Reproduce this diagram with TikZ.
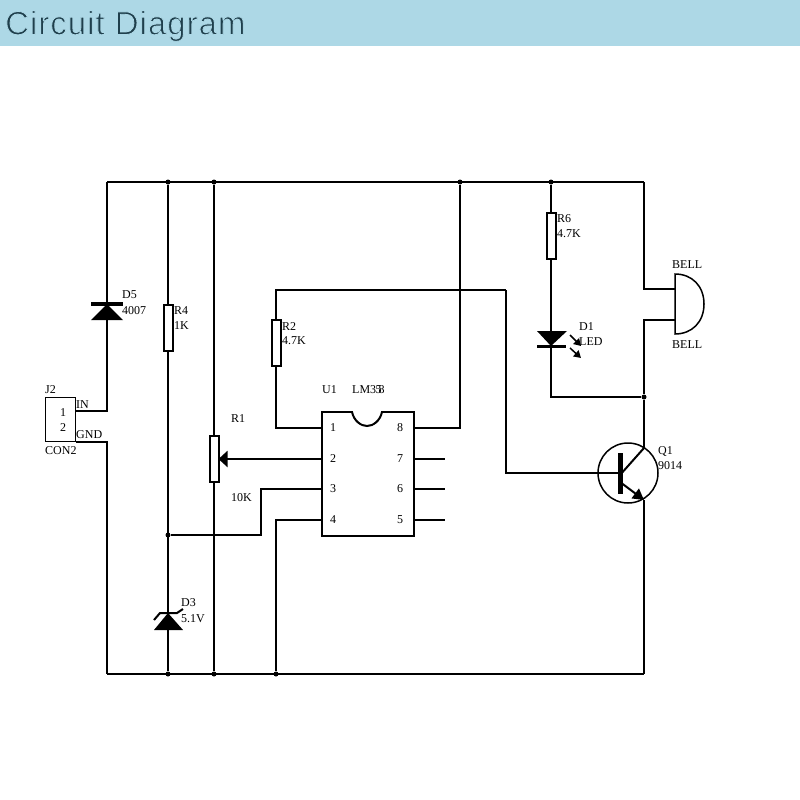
\documentclass[tikz,border=0pt]{standalone}
\usepackage{fontspec}
\setmainfont{Liberation Serif}
\newfontfamily\titlefont[LetterSpace=3]{Liberation Sans}
\usetikzlibrary{arrows.meta}
\definecolor{bandblue}{HTML}{ADD8E6}
\definecolor{titleink}{HTML}{1F3F4C}
\newcommand{\thintext}[1]{\special{pdf:code q 2 Tr 0.85 w 0.678 0.847 0.902 RG}#1\special{pdf:code Q}}
\tikzset{
  wire/.style={line width=2pt,line join=miter},
  resbox/.style={draw,line width=2pt,fill=white,minimum width=9pt,minimum height=46pt,inner sep=0,outer sep=0},
  junction/.style={circle,fill=black,minimum size=5pt,inner sep=0},
  lbl/.style={anchor=west,inner sep=0,font=\fontsize{12}{12}\selectfont},
  pinlbl/.style={inner sep=0,font=\fontsize{12}{12}\selectfont},
  diodebar/.style={line width=3.5pt}
}
\begin{document}
\begin{tikzpicture}[x=1pt,y=-1pt]
    \useasboundingbox (0,0) rectangle (800,800);
    \fill[bandblue] (0,0) rectangle (800,46);
    \node[anchor=west,inner sep=0,text=titleink,font=\titlefont\fontsize{33}{33}\selectfont] (title) at (5,26) {\thintext{Circuit Diagram}};

    % rails
    \coordinate (tl) at (107,182);
    \coordinate (tr) at (644,182);
    \coordinate (bl) at (107,674);
    \coordinate (br) at (644,674);
    \node[junction] (t168) at (168,182) {};
    \node[junction] (t214) at (214,182) {};
    \node[junction] (t460) at (460,182) {};
    \node[junction] (t551) at (551,182) {};
    \node[junction] (b168) at (168,674) {};
    \node[junction] (b214) at (214,674) {};
    \node[junction] (b276) at (276,674) {};
    \node[junction] (m168) at (168,535) {};
    \node[junction] (m644) at (644,397) {};
    \draw[wire] (tl) -- (tr);
    \draw[wire] (bl) -- (br);

    % connector J2
    \node[draw,line width=1pt,minimum width=30pt,minimum height=44pt,inner sep=0,outer sep=0] (j2) at (60,419) {};
    \node[lbl] (j2name) at (45,390) {J2};
    \node[lbl] (j2val) at (45,451) {CON2};
    \node[pinlbl] (j2a) at (63,413) {1};
    \node[pinlbl] (j2b) at (63,428) {2};
    \node[lbl] (inlbl) at (76,405) {IN};
    \node[lbl] (gndlbl) at (76,435) {GND};
    \coordinate (in) at (76,411);
    \coordinate (gnd) at (76,442);
    \draw[wire] (in) -| (tl);
    \draw[wire] (gnd) -| (bl);

    % D5
    \coordinate (d5k) at (107,304);
    \fill (d5k) -- (123,320) -- (91,320) -- cycle;
    \draw[diodebar] (91,304) -- (123,304);
    \node[lbl] (d5name) at (122,295) {D5};
    \node[lbl] (d5val) at (122,311) {4007};

    % R4 and D3
    \node[resbox] (r4) at (168,327.5) {};
    \node[lbl] (r4name) at (174,311) {R4};
    \node[lbl] (r4val) at (174,326) {1K};
    \draw[wire] (t168) -- (r4.north);
    \draw[wire] (r4.south) -- (b168);
    \coordinate (d3k) at (168,613);
    \fill (d3k) -- (183,630) -- (154,630) -- cycle;
    \draw[line width=2pt] (154,620) -- (160,613) -- (177,613) -- (183,609);
    \node[lbl] (d3name) at (181,603) {D3};
    \node[lbl] (d3val) at (181,619) {5.1V};

    % R1
    \node[resbox] (r1) at (214,459) {};
    \node[lbl] (r1name) at (231,419) {R1};
    \node[lbl] (r1val) at (231,498) {10K};
    \draw[wire] (t214) -- (r1.north);
    \draw[wire] (r1.south) -- (b214);

    % U1
    \node[draw,line width=2pt,fill=white,minimum width=92pt,minimum height=124pt,inner sep=0,outer sep=0] (u1) at (368,474) {};
    \draw[white,line width=3pt] (353,412) -- (381,412);
    \draw[line width=2pt] (352,412) .. controls (354,421) and (361,426) .. (367,426) .. controls (373,426) and (380,421) .. (382,412);
    \node[lbl] (u1name) at (322,390) {U1};
    \node[lbl] (u1val) at (352,390) {LM3\kern-.5pt 5\kern-3pt 8};
    \node[pinlbl] (p1) at (333,428) {1};
    \node[pinlbl] (p2) at (333,459) {2};
    \node[pinlbl] (p3) at (333,489) {3};
    \node[pinlbl] (p4) at (333,520) {4};
    \node[pinlbl] (p8) at (400,428) {8};
    \node[pinlbl] (p7) at (400,459) {7};
    \node[pinlbl] (p6) at (400,489) {6};
    \node[pinlbl] (p5) at (400,520) {5};
    \draw[wire,-{Triangle[length=9pt,width=16pt]}] (u1.west |- p2) -- (r1.east |- p2);
    \coordinate (u3turn) at (261,489);
    \draw[wire] (u1.west |- p3) -- (u3turn) |- (m168);
    \draw[wire] (u1.west |- p4) -| (b276);
    \draw[wire] (u1.east |- p8) -| (t460);
    \coordinate (p7end) at (445,459);
    \coordinate (p6end) at (445,489);
    \coordinate (p5end) at (445,520);
    \draw[wire] (u1.east |- p7) -- (p7end);
    \draw[wire] (u1.east |- p6) -- (p6end);
    \draw[wire] (u1.east |- p5) -- (p5end);

    % R2
    \node[resbox] (r2) at (276,343) {};
    \node[lbl] (r2name) at (282,327) {R2};
    \node[lbl] (r2val) at (282,341) {4.7K};
    \coordinate (qturn) at (506,290);
    \draw[wire] (u1.west |- p1) -| (r2.south);
    \draw[wire] (r2.north) |- (qturn);

    % R6 and D1
    \node[resbox] (r6) at (551,235.5) {};
    \node[lbl] (r6name) at (557,219) {R6};
    \node[lbl] (r6val) at (557,234) {4.7K};
    \coordinate (d1turn) at (551,397);
    \coordinate (d1k) at (551,346);
    \draw[wire] (t551) -- (r6.north);
    \draw[wire] (r6.south) -- (d1turn) -- (m644);
    \fill (d1k) -- (567,331) -- (537,331) -- cycle;
    \draw[diodebar] (537,346.5) -- (566,346.5);
    \draw[line width=1.5pt,-{Triangle[length=7pt,width=8pt]}] (570,335) -- (581,346);
    \draw[line width=1.5pt,-{Triangle[length=7pt,width=8pt]}] (570,348) -- (581,358);
    \node[lbl] (d1name) at (579,327) {D1};
    \node[lbl] (d1val) at (579,342) {LED};

    % BELL
    \coordinate (bella) at (675,289);
    \coordinate (bellb) at (675,320);
    \draw[line width=1.5pt] (675,274) .. controls (692,274) and (704,286) .. (704,304) .. controls (704,322) and (692,334) .. (675,334) -- cycle;
    \node[lbl] (bellname) at (672,265) {BELL};
    \node[lbl] (bellval) at (672,345) {BELL};
    \draw[wire] (tr) |- (bella);
    \draw[wire] (bellb) -| (m644);

    % Q1
    \node[draw,circle,line width=1.5pt,minimum size=60pt,inner sep=0] (q1) at (628,473) {};
    \node[lbl] (q1name) at (658,451) {Q1};
    \node[lbl] (q1val) at (658,466) {9014};
    \coordinate (qbase) at (620,473);
    \coordinate (qc) at (644,448);
    \coordinate (qe) at (644,500);
    \draw[wire] (qturn) |- (qbase);
    \draw[line width=5pt] (620,453) -- (620,494);
    \draw[line width=2pt] (620,475) -- (qc);
    \draw[line width=2pt,-{Triangle[length=11pt,width=12pt]}] (620,482) -- (qe);
    \draw[wire] (m644) -- (qc);
    \draw[wire] (qe) -- (br);
\end{tikzpicture}
\end{document}
